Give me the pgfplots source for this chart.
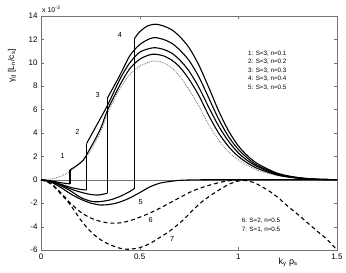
\documentclass[border=0pt]{standalone}
\usepackage{fontspec}
\setmainfont{Liberation Sans}
\usepackage{pgfplots}
\pgfplotsset{compat=1.18}
\begin{document}
\begin{tikzpicture}
\begin{axis}[
  scale only axis, width=296bp, height=234bp,
  xmin=0, xmax=1.5, ymin=-6, ymax=14,
  xtick={0,0.5,1,1.5}, xticklabels={0,0.5,1,1.5},
  ytick={-6,-4,-2,0,2,4,6,8,10,12,14},
  tick align=inside, major tick length=3bp,
  axis line style={black!55}, tick style={black!55},
  ticklabel style={font=\fontsize{8}{9}\selectfont},
  /pgf/number format/assume math mode=true,
  clip=false,
]
% zero line
\addplot[black!55, line width=0.5pt] coordinates {(0,0)(1.5,0)};
% dotted curve
\addplot[black!60, line width=0.8pt, dash pattern=on 0.8bp off 1.1bp, smooth] coordinates {
(0,0)(0.05,0.08)(0.1,0.3)(0.15,0.75)(0.2,1.45)(0.24,2.2)(0.3,4.0)(0.338,5.7)(0.4,7.8)(0.45,9.0)(0.5,9.7)(0.55,10.08)(0.58,10.15)(0.62,10.0)(0.66,9.6)(0.7,8.9)(0.75,7.7)(0.8,6.3)(0.85,4.7)(0.9,3.4)(0.95,2.4)(1.0,1.7)(1.05,1.2)(1.1,0.8)(1.2,0.35)(1.3,0.12)(1.4,0.03)(1.5,0.01)};
% curve 1
\addplot[black, line width=1.1pt, smooth] coordinates {(0,0)(0.05,-0.08)(0.1,-0.25)(0.147,-0.35)};
\addplot[black, line width=1.1pt] coordinates {(0.147,-0.35)(0.147,0.85)};
\addplot[black, line width=1.1pt, smooth] coordinates {
(0.147,0.85)(0.18,1.2)(0.215,1.7)(0.24,2.4)(0.3,4.3)(0.338,6.0)(0.4,8.1)(0.45,9.5)(0.5,10.3)(0.55,10.68)(0.58,10.73)(0.62,10.6)(0.66,10.25)(0.7,9.7)(0.75,8.6)(0.8,7.2)(0.85,5.5)(0.9,4.0)(0.95,2.85)(1.0,2.0)(1.05,1.4)(1.1,0.95)(1.2,0.4)(1.3,0.14)(1.4,0.04)(1.5,0.01)};
% curve 2
\addplot[black, line width=1.1pt, smooth] coordinates {(0,0)(0.05,-0.12)(0.1,-0.38)(0.15,-0.65)(0.2,-0.82)(0.231,-0.87)};
\addplot[black, line width=1.1pt] coordinates {(0.231,-0.87)(0.231,3.1)};
\addplot[black, line width=1.1pt, smooth] coordinates {
(0.231,3.1)(0.28,4.6)(0.338,6.4)(0.4,8.6)(0.45,10.0)(0.5,10.9)(0.55,11.22)(0.58,11.29)(0.62,11.15)(0.66,10.85)(0.7,10.3)(0.75,9.3)(0.8,7.9)(0.85,6.2)(0.9,4.6)(0.95,3.3)(1.0,2.3)(1.05,1.6)(1.1,1.1)(1.2,0.45)(1.3,0.16)(1.4,0.04)(1.5,0.01)};
% curve 3
\addplot[black, line width=1.1pt, smooth] coordinates {(0,0)(0.05,-0.14)(0.1,-0.42)(0.15,-0.78)(0.2,-1.05)(0.25,-1.25)(0.29,-1.3)(0.336,-1.15)};
\addplot[black, line width=1.1pt] coordinates {(0.336,-1.15)(0.336,6.96)};
\addplot[black, line width=1.1pt, smooth] coordinates {
(0.336,6.96)(0.4,8.95)(0.45,10.6)(0.5,11.55)(0.55,12.05)(0.58,12.15)(0.62,12.0)(0.66,11.7)(0.7,11.15)(0.75,10.2)(0.8,8.8)(0.85,7.0)(0.9,5.2)(0.95,3.7)(1.0,2.6)(1.05,1.8)(1.1,1.2)(1.2,0.5)(1.3,0.18)(1.4,0.05)(1.5,0.01)};
% curve 4
\addplot[black, line width=1.1pt, smooth] coordinates {(0,0)(0.05,-0.16)(0.1,-0.5)(0.15,-0.95)(0.2,-1.5)(0.25,-1.82)(0.29,-1.88)(0.35,-1.72)(0.4,-1.42)(0.45,-1.0)(0.475,-0.72)};
\addplot[black, line width=1.1pt] coordinates {(0.475,-0.72)(0.475,12.1)};
\addplot[black, line width=1.1pt, smooth] coordinates {
(0.475,12.1)(0.5,12.65)(0.54,13.15)(0.58,13.3)(0.62,13.15)(0.66,12.85)(0.7,12.3)(0.75,11.3)(0.8,9.8)(0.85,7.9)(0.9,5.9)(0.95,4.2)(1.0,2.9)(1.05,2.0)(1.1,1.35)(1.2,0.55)(1.3,0.2)(1.4,0.05)(1.5,0.01)};
% curve 5
\addplot[black, line width=1.1pt, smooth] coordinates {
(0,0)(0.05,-0.2)(0.1,-0.65)(0.15,-1.2)(0.2,-1.65)(0.25,-1.98)(0.3,-2.15)(0.35,-2.1)(0.4,-1.9)(0.45,-1.55)(0.5,-1.1)(0.55,-0.62)(0.6,-0.3)(0.65,-0.15)(0.7,-0.05)(0.75,-0.015)(0.8,0)(1.5,0)};
% curve 6 (dashed)
\addplot[black, line width=1.1pt, dash pattern=on 4bp off 3bp, smooth] coordinates {
(0,0)(0.05,-0.3)(0.1,-1.1)(0.15,-2.0)(0.2,-2.75)(0.25,-3.25)(0.3,-3.55)(0.35,-3.7)(0.4,-3.68)(0.45,-3.5)(0.5,-3.2)(0.55,-2.85)(0.6,-2.45)(0.65,-2.0)(0.7,-1.55)(0.75,-1.1)(0.8,-0.75)(0.86,-0.43)(0.9,-0.25)(0.95,-0.08)(1.0,-0.01)(1.05,0)};
% curve 7 (dashed)
\addplot[black, line width=1.1pt, dash pattern=on 4bp off 3bp, smooth] coordinates {
(0,0)(0.05,-0.35)(0.1,-1.2)(0.147,-2.1)(0.2,-3.4)(0.25,-4.4)(0.3,-5.1)(0.35,-5.55)(0.4,-5.85)(0.44,-5.94)(0.5,-5.8)(0.553,-5.43)(0.6,-4.95)(0.655,-4.35)(0.72,-3.44)(0.76,-2.75)(0.807,-2.0)(0.85,-1.45)(0.89,-1.0)(0.95,-0.4)(1.0,-0.1)(1.03,-0.05)(1.08,-0.25)(1.146,-0.85)(1.2,-1.5)(1.25,-2.25)(1.315,-3.15)(1.4,-4.4)(1.45,-5.1)(1.5,-6.0)};
% curve labels
\begin{scope}[every node/.style={font=\fontsize{7.3}{8}\selectfont, inner sep=0pt}]
\node at (axis cs:0.11,2.0) {1};
\node at (axis cs:0.184,4.08) {2};
\node at (axis cs:0.287,7.28) {3};
\node at (axis cs:0.40,12.4) {4};
\node at (axis cs:0.505,-1.9) {5};
\node at (axis cs:0.556,-3.44) {6};
\node at (axis cs:0.665,-5.1) {7};
\end{scope}
\begin{scope}[every node/.style={font=\fontsize{6.3}{7}\selectfont, inner sep=0pt, anchor=west}]
\node at (axis cs:1.049,10.81) {1: S=3, n=0.1};
\node at (axis cs:1.049,10.08) {2: S=3, n=0.2};
\node at (axis cs:1.049,9.35) {3: S=3, n=0.3};
\node at (axis cs:1.049,8.62) {4: S=3, n=0.4};
\node at (axis cs:1.049,7.90) {5: S=3, n=0.5};
\node at (axis cs:1.017,-3.50) {6: S=2, n=0.5};
\node at (axis cs:1.017,-4.29) {7: S=1, n=0.5};
\end{scope}
\node[font=\fontsize{7}{8}\selectfont, inner sep=0pt, anchor=south west] at (axis cs:0.005,14.25) {x 10\textsuperscript{-3}};
\node[font=\fontsize{8.5}{9}\selectfont, inner sep=0pt, rotate=90] at (axis cs:-0.147,9.73) {γ\textsubscript{d} [L\textsubscript{n}/c\textsubscript{s}]};
\node[font=\fontsize{9}{10}\selectfont, inner sep=0pt] at (axis cs:1.252,-7.03) {k\textsubscript{y} ρ\textsubscript{s}};
\end{axis}
\path[use as bounding box] ([shift={(-41bp,-23bp)}]current axis.south west) rectangle ([shift={(9bp,16bp)}]current axis.north east);
\end{tikzpicture}
\end{document}
